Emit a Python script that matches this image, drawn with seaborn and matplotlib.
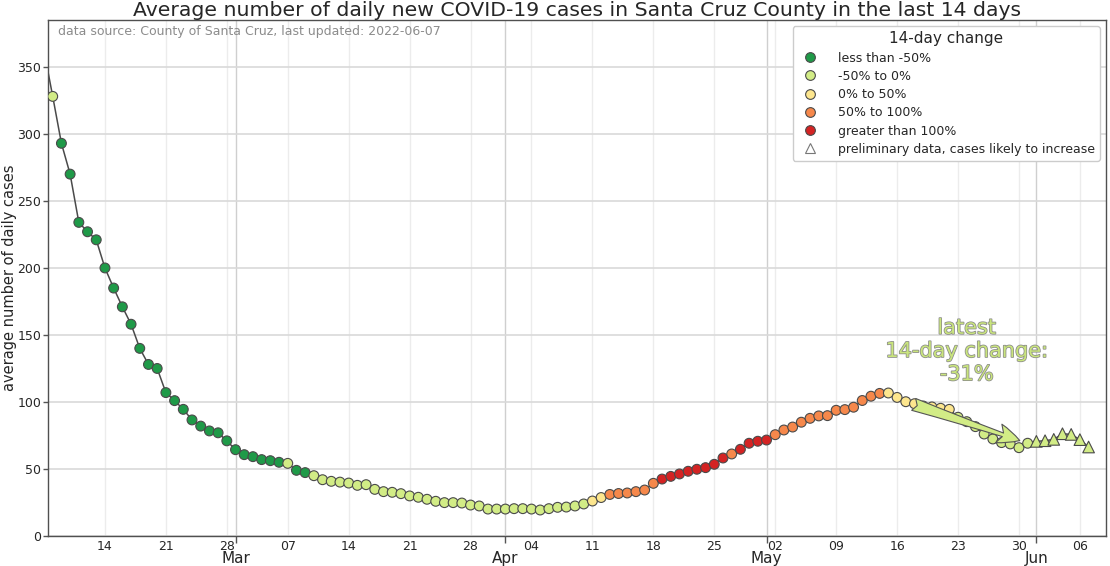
import numpy as np
import pandas as pd
import matplotlib
matplotlib.use("Agg")
import matplotlib.pyplot as plt
import matplotlib.dates as mdates
import matplotlib.patheffects as pe
from matplotlib.lines import Line2D
import seaborn as sns

# data (average daily new cases)
start_date = "2022-02-07"
end_date = "2022-06-07"
cases = [362, 328, 293, 270, 234, 227, 221, 200, 185, 171, 158, 140, 128, 125, 107, 101,
         94.5, 86.6, 82, 78.4, 77, 71,
         64.4, 60.7, 59.2, 57, 56.2, 55, 54.2, 49, 47.3, 45, 42, 40.8, 40.2, 39.5, 37.8, 38.3,
         34.8, 33.1, 32.6, 31.6, 29.9, 28.9, 27.4, 25.9, 24.9, 24.9, 24.6, 23.1, 22.4, 20.1, 20.1,
         20.1, 20.4, 20.4, 20.1, 19.4, 20.4, 21.4, 21.6, 22.4, 23.9, 26.1, 28.7, 31, 31.7, 32.1,
         33.1, 34.3, 39.3, 42.5, 44.5, 46.3, 48.3, 49.8, 51, 53.5, 58.2, 61.2, 64.7, 69.2, 70.7,
         71.6, 75.6, 79.1, 81.3, 84.9, 87.8, 89.6, 89.8, 93.8, 94.3, 96.1, 101.1, 104.3, 106.4,
         106.7, 103.4, 100.2, 98.7, 97, 96.3, 95.3, 94.5, 88.6, 85.3, 81.6, 76.1, 72.4, 69.7,
         68.7, 65.9, 69.2,
         70.6, 71.1, 72.1, 76.3, 75.8, 71.9, 66.4]

# 14-day change bin per day (0 = less than -50% ... 4 = greater than 100%)
change_bin = ([1, 1] + [0] * 26 + [1] + [0] * 2 + [1] * 32 + [2] * 2 + [3] * 6 + [4] * 8
              + [3] + [4] * 4 + [3] * 13 + [2] * 8 + [1] * 16)
n_preliminary = 7

bin_labels = ["less than -50%", "-50% to 0%", "0% to 50%", "50% to 100%", "greater than 100%"]
bin_colors = ["#1f9a48", "#d2ec86", "#fde68e", "#f6884b", "#d42323"]
latest_change = "-31%"

dates = pd.date_range(start_date, end_date, freq="D")
df = pd.DataFrame({"date": dates, "cases": cases})
df["change"] = [bin_labels[b] for b in change_bin]
df["status"] = "final"
df.loc[df.index[-n_preliminary:], "status"] = "preliminary"

sns.set_theme(style="whitegrid")
plt.rcParams["font.family"] = ["DejaVu Sans"]

fig = plt.figure(figsize=(11.1, 5.66), dpi=100)
ax = fig.add_axes([48 / 1110, 1 - 536 / 566, (1106 - 48) / 1110, (536 - 20) / 566])

sns.lineplot(data=df, x="date", y="cases", color="#4a4a4a", linewidth=1.1, zorder=2, ax=ax)
# first day only feeds the line coming in from the left edge
sns.scatterplot(data=df.iloc[1:], x="date", y="cases", hue="change", style="status", size="status",
                palette=dict(zip(bin_labels, bin_colors)),
                markers={"final": "o", "preliminary": "^"},
                sizes={"final": 50, "preliminary": 70},
                edgecolor="#4a4a4a", linewidth=0.8, legend=False, zorder=3, ax=ax)

# arrow showing the latest 14-day change
last = df[df.status == "final"].iloc[-1]
prev = df[df.date == last.date - pd.Timedelta(days=14)].iloc[0]
ax.annotate("", xy=(last.date, last.cases), xytext=(prev.date, prev.cases),
            arrowprops=dict(arrowstyle="fancy,head_length=0.8,head_width=0.7,tail_width=0.45",
                            mutation_scale=20, fc="#d2ec86", ec="#555555", lw=0.8,
                            shrinkA=6, shrinkB=6), zorder=4)
ax.text(pd.Timestamp("2022-05-24"), 138, "latest\n14-day change:\n" + latest_change,
        ha="center", va="center", multialignment="center", fontsize=15, color="#c9e47d",
        path_effects=[pe.withStroke(linewidth=1.1, foreground="#8a8a8a")], zorder=5)

ax.text(0.009, 0.99, "data source: County of Santa Cruz, last updated: 2022-06-07",
        transform=ax.transAxes, ha="left", va="top", fontsize=9, color="#8c8c8c")

ax.set_xlim(pd.Timestamp("2022-02-07 11:00"), pd.Timestamp("2022-06-09 00:00"))
ax.set_ylim(0, 385)
ax.set_yticks(range(0, 351, 50))
ax.set_xlabel("")
ax.set_ylabel("average number of daily cases", fontsize=10.5)
ax.yaxis.set_label_coords(-0.0295, 0.5)
ax.set_title("Average number of daily new COVID-19 cases in Santa Cruz County in the last 14 days",
             fontsize=14.7, pad=2)

ax.xaxis.set_major_locator(mdates.MonthLocator())
ax.xaxis.set_major_formatter(mdates.DateFormatter("%b"))
ax.xaxis.set_minor_locator(mdates.WeekdayLocator(byweekday=mdates.MO))
ax.xaxis.set_minor_formatter(mdates.DateFormatter("%d"))
ax.tick_params(axis="x", which="major", length=5, width=1, color="#555555", pad=6, labelsize=11,
               bottom=True)
ax.tick_params(axis="x", which="minor", length=0, pad=3, labelsize=9, bottom=True)
ax.tick_params(axis="y", length=3.5, width=1, color="#555555", pad=1.5, labelsize=9, left=True)

ax.grid(which="major", axis="y", color="#d9d9d9", linewidth=1.2)
ax.grid(which="major", axis="x", color="#cfcfcf", linewidth=1.0)
ax.grid(which="minor", axis="x", color="#ececec", linewidth=1.0)
for sp in ax.spines.values():
    sp.set_color("#505050")
    sp.set_linewidth(1.0)

handles = [Line2D([], [], marker="o", linestyle="none", markersize=7, markerfacecolor=c,
                  markeredgecolor="#4a4a4a", markeredgewidth=0.8) for c in bin_colors]
handles.append(Line2D([], [], marker="^", linestyle="none", markersize=7.5, markerfacecolor="white",
                      markeredgecolor="#777777", markeredgewidth=0.8))
leg = ax.legend(handles, bin_labels + ["preliminary data, cases likely to increase"],
                title="14-day change", loc="upper right", fontsize=9, title_fontsize=11,
                frameon=True, framealpha=1, edgecolor="#cccccc", handletextpad=1.2,
                labelspacing=0.42, borderpad=0.4)

fig.savefig("out.png", dpi=100)
